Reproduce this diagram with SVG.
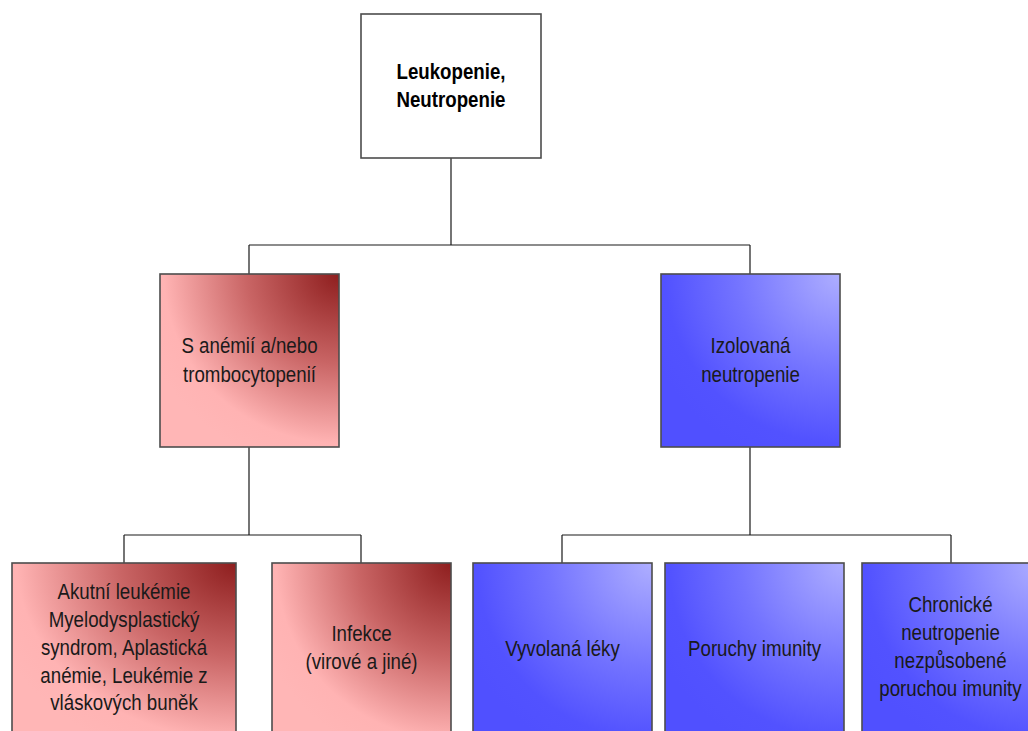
<svg xmlns="http://www.w3.org/2000/svg" width="1028" height="731" viewBox="0 0 1028 731">
<defs>
<radialGradient id="gRed" cx="1" cy="0" r="1.15" fx="1" fy="0">
<stop offset="0" stop-color="#8e1e1e"/>
<stop offset="0.45" stop-color="#c96565"/>
<stop offset="0.85" stop-color="#ffb3b3"/>
<stop offset="1" stop-color="#ffb6b6"/>
</radialGradient>
<radialGradient id="gBlue" cx="1" cy="0" r="1.15" fx="1" fy="0">
<stop offset="0" stop-color="#aeaeff"/>
<stop offset="0.5" stop-color="#7474ff"/>
<stop offset="0.85" stop-color="#5252ff"/>
<stop offset="1" stop-color="#5050ff"/>
</radialGradient>
<style>
.box{stroke:#4d4d4d;stroke-width:1.6}
.white{fill:#ffffff}
.red{fill:url(#gRed)}
.blue{fill:url(#gBlue)}
.t{font-family:"Liberation Sans",Arial,sans-serif;font-size:22px;fill:#1a1a1a;text-anchor:middle}
.b{font-weight:bold;fill:#000}
.conn{fill:none;stroke:#1a1a1a;stroke-width:1.2}
</style>
</defs>
<rect width="1028" height="731" fill="#ffffff"/>
<g id="connectors">
<path class="conn" d="M451 158 V245 M249 245 H750 M249 245 V274 M750 245 V274"/>
<path class="conn" d="M249 447 V535 M124 535 H361 M124 535 V563 M361 535 V563"/>
<path class="conn" d="M750 447 V535 M562 535 H951 M562 535 V563 M951 535 V563"/>
</g>
<g id="root">
<rect class="box white" x="361" y="14" width="180" height="144"/>
<g transform="translate(451,0) scale(0.85,1)">
<text class="t b" x="0" y="79">Leukopenie,</text>
<text class="t b" x="0" y="107">Neutropenie</text>
</g>
</g>
<g id="anemie">
<rect class="box red" x="160" y="274" width="179" height="173"/>
<g transform="translate(249.5,0) scale(0.85,1)">
<text class="t" x="0" y="353">S anémií a/nebo</text>
<text class="t" x="0" y="382">trombocytopenií</text>
</g>
</g>
<g id="izolovana">
<rect class="box blue" x="661" y="274" width="179" height="173"/>
<g transform="translate(750.5,0) scale(0.85,1)">
<text class="t" x="0" y="353">Izolovaná</text>
<text class="t" x="0" y="382">neutropenie</text>
</g>
</g>
<g id="leukemie">
<rect class="box red" x="12" y="563" width="224" height="180"/>
<g transform="translate(124,0) scale(0.85,1)">
<text class="t" x="0" y="599">Akutní leukémie</text>
<text class="t" x="0" y="627">Myelodysplastický</text>
<text class="t" x="0" y="655">syndrom, Aplastická</text>
<text class="t" x="0" y="683">anémie, Leukémie z</text>
<text class="t" x="0" y="710">vláskových buněk</text>
</g>
</g>
<g id="infekce">
<rect class="box red" x="272" y="563" width="179" height="180"/>
<g transform="translate(361.5,0) scale(0.85,1)">
<text class="t" x="0" y="641">Infekce</text>
<text class="t" x="0" y="669">(virové a jiné)</text>
</g>
</g>
<g id="leky">
<rect class="box blue" x="473" y="563" width="179" height="180"/>
<g transform="translate(562.5,0) scale(0.85,1)">
<text class="t" x="0" y="656">Vyvolaná léky</text>
</g>
</g>
<g id="imunita">
<rect class="box blue" x="665" y="563" width="179" height="180"/>
<g transform="translate(754.5,0) scale(0.85,1)">
<text class="t" x="0" y="656">Poruchy imunity</text>
</g>
</g>
<g id="chronicke">
<rect class="box blue" x="862" y="563" width="178" height="180"/>
<g transform="translate(950.5,0) scale(0.85,1)">
<text class="t" x="0" y="612">Chronické</text>
<text class="t" x="0" y="640">neutropenie</text>
<text class="t" x="0" y="668">nezpůsobené</text>
<text class="t" x="0" y="696">poruchou imunity</text>
</g>
</g>
</svg>
